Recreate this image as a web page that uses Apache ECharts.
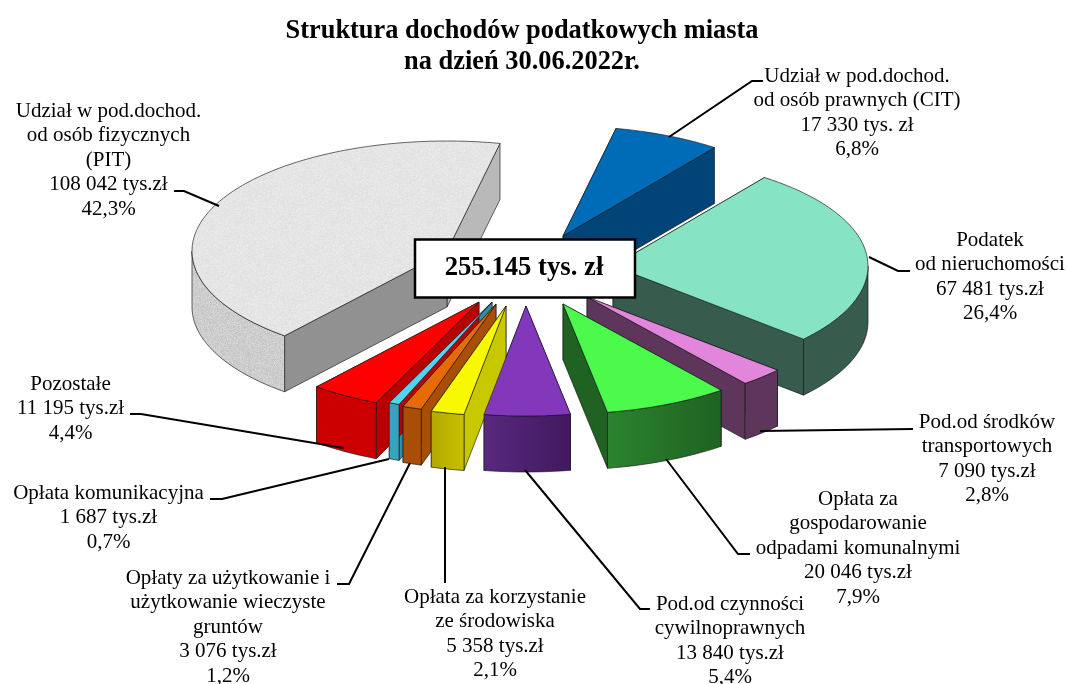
<!DOCTYPE html>
<html>
<head>
<meta charset="utf-8">
<title>Struktura dochodów podatkowych miasta</title>
<script src="https://cdn.jsdelivr.net/npm/echarts@6/dist/echarts.min.js"></script>
<style>
  html, body { margin: 0; padding: 0; background: #fff; }
  #chart { width: 1067px; height: 684px; }
</style>
</head>
<body>
<div id="chart"></div>
<script>
// dane: tys. zl, kolejnosc zgodnie z ruchem wskazowek od CIT
var sliceValues = [17330, 67481, 7090, 20046, 13840, 5358, 3076, 1687, 11195, 108042];
var sliceLabels = [
  'Udział w pod.dochod.\nod osób prawnych (CIT)\n17 330 tys. zł\n6,8%',
  'Podatek\nod nieruchomości\n67 481 tys.zł\n26,4%',
  'Pod.od środków\ntransportowych\n7 090 tys.zł\n2,8%',
  'Opłata za\ngospodarowanie\nodpadami komunalnymi\n20 046 tys.zł\n7,9%',
  'Pod.od czynności\ncywilnoprawnych\n13 840 tys.zł\n5,4%',
  'Opłata za korzystanie\nze środowiska\n5 358 tys.zł\n2,1%',
  'Opłaty za użytkowanie i\nużytkowanie wieczyste\ngruntów\n3 076 tys.zł\n1,2%',
  'Opłata komunikacyjna\n1 687 tys.zł\n0,7%',
  'Pozostałe\n11 195 tys.zł\n4,4%',
  'Udział w pod.dochod.\nod osób fizycznych\n(PIT)\n108 042 tys.zł\n42,3%'
];
var titleText = 'Struktura dochodów podatkowych miasta\nna dzień 30.06.2022r.';
var totalText = '255.145 tys. zł';

// wyglad
var startAngle = 12;
var radiusX = 255, radiusY = 110, depth = 56;
var centerX = 520, centerY = 280;
var sliceShift = [[43, -44], [93, -14], [67, 17], [43, 24], [6, 26], [-14, 26], [-24, 24], [-28, 22], [-41, 22], [-73, -29]];
var topColors = ['#006cb8', '#86e3c3', '#e286dc', '#4cfa4c', '#8338bc', '#f8f800', '#e56b06', '#4fd5ef', '#fe0000', null];
var startFaceColors = ['#004478', '#375c4e', '#5e365c', '#1f6222', '#55267a', '#c8c800', '#a84e06', '#2f8fa8', '#b80000', '#919191'];
var endFaceColors = ['#004478', '#375c4e', '#5e365c', '#1f6222', '#55267a', '#c8c800', '#a84e06', '#37a3bf', '#cc0000', '#b9b9b9'];
var wallColors = [
  ['#004478', '#004478'], ['#375c4e', '#375c4e'], ['#5e365c', '#5e365c'], ['#2b842e', '#1f6222'],
  ['#58287e', '#41195e'], ['#c8c000', '#b3a800'], ['#a84e06', '#a84e06'], ['#37a3bf', '#37a3bf'],
  ['#cc0000', '#cc0000'], null
];
var labelFont = 21, labelLine = 24.6;
// srodek tekstu w poziomie i srodek pierwszej linii
var labelCenters = [[857, 76], [990, 240], [987, 422], [858, 499], [730, 604], [495, 597], [228, 578], [108.5, 493], [70.5, 384], [108.5, 111]];
var leaderLines = [
  [[669, 137], [752, 81], [763, 81]],
  [[869, 257], [898, 271], [910, 271]],
  [[760, 431], [913, 429]],
  [[666, 459], [738, 554], [750, 554]],
  [[525, 470], [640, 609], [650, 609]],
  [[445, 467], [445, 583]],
  [[410, 463], [349, 584], [337, 584]],
  [[389, 459], [222, 499], [210, 499]],
  [[344, 448], [141, 414], [130, 414]],
  [[219, 206], [184, 191], [174, 191]]
];
var serif = '"Liberation Serif", "Times New Roman", serif';

// tekstura "kamienia" dla PIT
function speckle(base, spread) {
  var size = 96, c = document.createElement('canvas');
  c.width = c.height = size;
  var ctx = c.getContext('2d');
  var img = ctx.createImageData(size, size), seed = 7;
  for (var i = 0; i < size * size; i++) {
    seed = (seed * 1103515245 + 12345) & 0x7fffffff;
    var v = base + ((seed >> 16) % (spread * 2 + 1)) - spread;
    img.data[i * 4] = v;
    img.data[i * 4 + 1] = v;
    img.data[i * 4 + 2] = v;
    img.data[i * 4 + 3] = 255;
  }
  ctx.putImageData(img, 0, 0);
  return { image: c, repeat: 'repeat' };
}
var stoneTop = speckle(229, 5);
var stoneWall = speckle(205, 10);

var total = sliceValues.reduce(function (a, b) { return a + b; }, 0);
var sliceAngles = [];
(function () {
  var a = startAngle;
  for (var i = 0; i < sliceValues.length; i++) {
    var b = a + sliceValues[i] / total * 360;
    sliceAngles.push([a, b]);
    a = b;
  }
})();

function rimPoint(cx, cy, deg, drop) {
  var r = deg * Math.PI / 180;
  return [cx + radiusX * Math.sin(r), cy - radiusY * Math.cos(r) + drop];
}

function arcPoints(cx, cy, from, to, drop) {
  var pts = [], n = Math.max(2, Math.ceil((to - from) / 2));
  for (var i = 0; i <= n; i++) {
    pts.push(rimPoint(cx, cy, from + (to - from) * i / n, drop));
  }
  return pts;
}

function renderSlice(params) {
  var i = params.dataIndex;
  var a = sliceAngles[i][0], b = sliceAngles[i][1];
  var cx = centerX + sliceShift[i][0], cy = centerY + sliceShift[i][1];
  var base = Math.round(cy) * 10;

  function poly(points, fill, order) {
    return {
      type: 'polygon',
      z2: base + order,
      shape: { points: points },
      style: { fill: fill, stroke: 'rgba(20,20,20,0.8)', lineWidth: 0.8 }
    };
  }
  function face(deg, fill, order) {
    var p = rimPoint(cx, cy, deg, 0);
    return poly([[cx, cy], p, [p[0], p[1] + depth], [cx, cy + depth]], fill, order);
  }

  var mid = (a + b) / 2;
  var children = [];
  children.push(face(a, startFaceColors[i], mid < 180 ? 0 : 1));
  children.push(face(b, endFaceColors[i], mid < 180 ? 1 : 0));

  // sciana zewnetrzna - tylko czesc z przodu
  var from = Math.max(a, 90), to = Math.min(b, 270);
  if (to > from) {
    var upper = arcPoints(cx, cy, from, to, 0);
    var lower = arcPoints(cx, cy, from, to, depth).reverse();
    var wall = wallColors[i]
      ? new echarts.graphic.LinearGradient(0, 0, 1, 0, [
          { offset: 0, color: mid < 180 ? wallColors[i][0] : wallColors[i][1] },
          { offset: 1, color: mid < 180 ? wallColors[i][1] : wallColors[i][0] }
        ])
      : stoneWall;
    children.push(poly(upper.concat(lower), wall, 2));
  }

  children.push(poly([[cx, cy]].concat(arcPoints(cx, cy, a, b, 0)), topColors[i] || stoneTop, 3));
  return { type: 'group', children: children };
}

var graphics = [];
sliceLabels.forEach(function (text, i) {
  graphics.push({
    type: 'text',
    x: labelCenters[i][0],
    y: labelCenters[i][1] - labelLine / 2,
    z: 5,
    style: {
      text: text,
      fill: '#000',
      font: labelFont + 'px ' + serif,
      lineHeight: labelLine,
      align: 'center',
      verticalAlign: 'top'
    }
  });
  graphics.push({
    type: 'polyline',
    z: 4,
    shape: { points: leaderLines[i] },
    style: { fill: null, stroke: '#000', lineWidth: 2 }
  });
});
graphics.push({
  type: 'rect',
  z: 6,
  shape: { x: 415, y: 239.5, width: 220, height: 58 },
  style: { fill: '#fff', stroke: '#000', lineWidth: 2.5 }
});
graphics.push({
  type: 'text',
  x: 524,
  y: 268,
  z: 7,
  style: {
    text: totalText,
    fill: '#000',
    font: 'bold 26.7px ' + serif,
    align: 'center',
    verticalAlign: 'middle'
  }
});

var chart = echarts.init(document.getElementById('chart'));
chart.setOption({
  animation: false,
  backgroundColor: '#fff',
  title: {
    text: titleText,
    left: 517,
    top: 10,
    textAlign: 'center',
    textStyle: {
      fontFamily: serif,
      fontWeight: 'bold',
      fontSize: 26.4,
      lineHeight: 31.5,
      color: '#000'
    }
  },
  series: [{
    type: 'custom',
    coordinateSystem: 'none',
    silent: true,
    renderItem: renderSlice,
    data: sliceValues
  }],
  graphic: { elements: graphics }
});
</script>
</body>
</html>
